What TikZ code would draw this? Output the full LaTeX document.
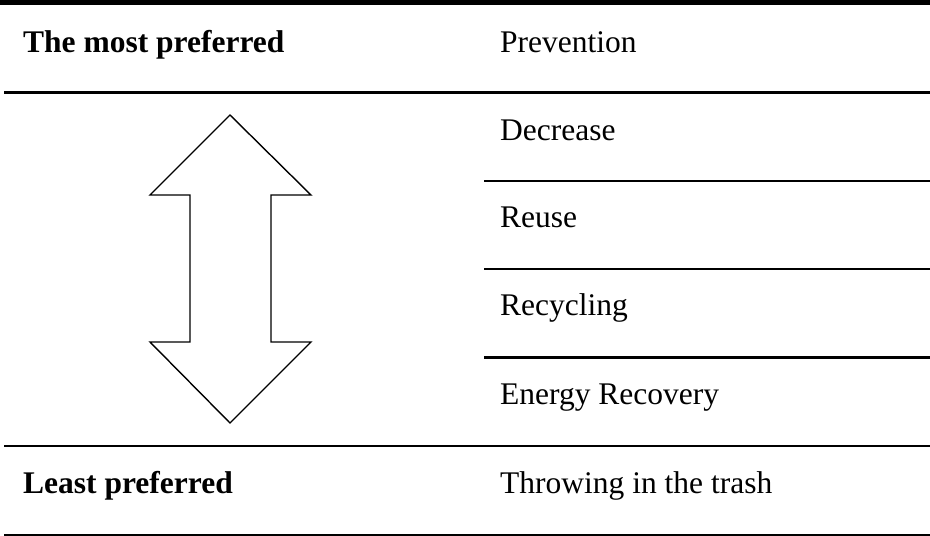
\documentclass[tikz,border=0pt]{standalone}
\usepackage{fontspec}
\setmainfont{Liberation Serif}
\begin{document}
\begin{tikzpicture}[x=1pt,y=-1pt,
  cell/.style={anchor=base west,inner sep=0pt,font=\fontsize{31.5}{36}\selectfont},
  headcell/.style={cell,font=\fontsize{31.5}{36}\selectfont\bfseries},
  rule/.style={draw=black,line width=2.6pt},
  thinrule/.style={draw=black,line width=2.2pt},
  arrowshape/.style={draw=black,line width=1.4pt,line join=miter,fill=white}]
\useasboundingbox (0,0) rectangle (930,536);

% horizontal rules of the table
\draw[draw=black,line width=5pt] (0,2.5) -- (930,2.5);
\draw[rule] (4,92.7) -- (930,92.7);
\draw[thinrule] (484,180.7) -- (930,180.7);
\draw[thinrule] (484,269.3) -- (930,269.3);
\draw[thinrule] (484,357.5) -- (930,357.5);
\draw[rule] (4,446) -- (930,446);
\draw[thinrule] (4,535) -- (930,535);

% left column
\node[headcell] (most) at (23,52) {The most preferred};
\node[headcell] (least) at (23,493) {Least preferred};

% right column
\node[cell] (prev) at (500,52) {Prevention};
\node[cell] (decr) at (500,140.7) {Decrease};
\node[cell] (reuse) at (500,227.5) {Reuse};
\node[cell] (recyc) at (500,315.5) {Recycling};
\node[cell] (energy) at (500,404.5) {Energy Recovery};
\node[cell] (trash) at (500,493) {Throwing in the trash};

% double-headed block arrow
\draw[arrowshape] (230,115) -- (311,195) -- (271,195) -- (271,342) -- (311,342)
  -- (230,423) -- (150,342) -- (190,342) -- (190,195) -- (150,195) -- cycle;
\end{tikzpicture}
\end{document}
